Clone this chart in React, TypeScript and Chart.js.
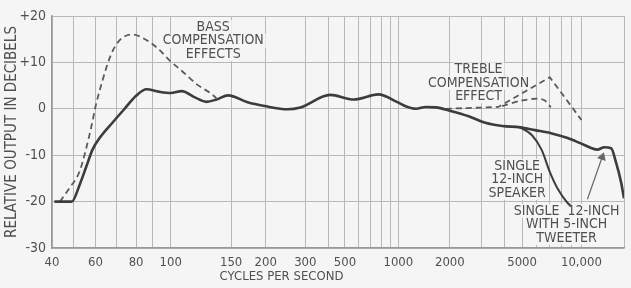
import React, { useEffect, useRef } from 'react';
import { Chart, registerables } from 'chart.js';

Chart.register(...registerables);

// Axis calibration of the printed (hand-drawn, non-uniform) frequency axis
const AXIS_FREQS = [40, 50, 60, 70, 80, 90, 100, 150, 200, 300, 400, 500, 600, 700, 800, 900, 1000, 2000, 3000, 4000, 5000, 6000, 7000, 8000, 9000, 10000, 16000];
const AXIS_UNITS = [0, 22, 44, 65, 85, 102, 120, 181, 216, 256, 279, 296, 310, 322, 333, 342, 350, 402, 434, 457, 475, 490, 503, 515, 525, 535, 578];

const X_LABEL_FREQS = [40, 60, 80, 100, 150, 200, 300, 500, 1000, 2000, 5000, 10000];
const X_LABEL_TEXT = ['40', '60', '80', '100', '150', '200', '300', '500', '1000', '2000', '5000', '10,000'];
const X_TITLE = 'CYCLES PER SECOND';
const X_TITLE_FREQ = 235;
const Y_TITLE = 'RELATIVE OUTPUT IN DECIBELS';

const Y_MIN = -30;
const Y_MAX = 20;
const Y_STEP = 10;

// Main response (single 12-inch, continuing with 5-inch tweeter above 5 kc)
const MAIN_FREQ = [41, 49, 52.5, 55.5, 58.5, 62, 68, 74, 80, 86, 93, 100, 107.6, 118, 127, 136, 147, 172, 198, 250, 285, 411, 562, 770, 980, 1112, 1270, 1450, 1660, 1990, 2545, 3150, 3900, 4880, 5860, 7160, 8590, 10330, 11910, 12860, 13880, 14660, 15490, 16000];
const MAIN_DB = [-20, -20, -16.4, -12.5, -8.8, -6.2, -3.0, 0, 2.8, 4.2, 3.7, 3.4, 3.8, 2.4, 1.5, 2.0, 2.9, 1.4, 0.6, -0.1, 0.3, 3.0, 2.0, 3.1, 1.5, 0.5, 0.0, 0.4, 0.3, -0.4, -1.6, -3.0, -3.7, -4.0, -4.6, -5.3, -6.3, -7.8, -8.8, -8.3, -8.5, -11.6, -15.8, -19.3];

// Single 12-inch speaker alone (branch falling off above 5 kc)
const SINGLE_FREQ = [4880, 5650, 6360, 7000, 7640, 8590, 9000];
const SINGLE_DB = [-4.0, -5.7, -8.9, -13.6, -17.2, -20.3, -21.0];

// Bass compensation effect (dashed)
const BASS_FREQ = [43.4, 48, 52.5, 55.5, 58.1, 60, 63.1, 67.4, 71.4, 77.8, 85.7, 93.2, 98.8, 107.6, 120, 131, 135.8];
const BASS_DB = [-20, -17, -13.5, -8.5, -3.5, 0.5, 6, 11.8, 14.7, 16, 14.9, 12.8, 10.6, 8.2, 5.1, 3.3, 2.3];

// Treble compensation effect (dashed, two settings)
const TREBLE_HI_FREQ = [1895, 3710, 7000, 10000];
const TREBLE_HI_DB = [0, 0.4, 6.8, -2.4];
const TREBLE_LO_FREQ = [3900, 5000, 6070, 6600, 7080];
const TREBLE_LO_DB = [0.6, 1.8, 2.2, 1.8, 0.3];

// Pointer from the tweeter caption to the curve
const ARROW_FREQ = [10680, 12580];
const ARROW_DB = [-19.5, -10.4];

const NOTES = [
  { lines: ['BASS', 'COMPENSATION', 'EFFECTS'], freq: 133, db: 17.6 },
  { lines: ['TREBLE', 'COMPENSATION', 'EFFECT'], freq: 2890, db: 8.5 },
  { lines: ['SINGLE', '12-INCH', 'SPEAKER'], freq: 4700, db: -12.3 },
  { lines: ['SINGLE  12-INCH', 'WITH 5-INCH', 'TWEETER'], freq: 8485, db: -22.0 },
];

const FONT = '"Liberation Sans Narrow", "DejaVu Sans Condensed", "Arial Narrow", "DejaVu Sans", sans-serif';
const BG = '#f5f5f5';
const INK = '#3c3c3c';
const TEXT = '#505050';
const GRID = '#b8b8b8';

function warp(f: number): number {
  const n = AXIS_FREQS.length;
  let i = 0;
  while (i < n - 2 && f > AXIS_FREQS[i + 1]) i++;
  const f0 = AXIS_FREQS[i], f1 = AXIS_FREQS[i + 1];
  const u0 = AXIS_UNITS[i], u1 = AXIS_UNITS[i + 1];
  const t = Math.log(f / f0) / Math.log(f1 / f0);
  return u0 + t * (u1 - u0);
}

function pts(fs: number[], ds: number[]) {
  return fs.map((f, i) => ({ x: warp(f), y: ds[i] }));
}

const notesPlugin = {
  id: 'notes',
  beforeDatasetsDraw(chart: any) {
    const { ctx, scales } = chart;
    ctx.save();
    ctx.font = `14px ${FONT}`;
    ctx.fillStyle = BG;
    NOTES.forEach((n) => {
      const cx = scales.x.getPixelForValue(warp(n.freq));
      const cy = scales.y.getPixelForValue(n.db);
      n.lines.forEach((ln, k) => {
        const w = ctx.measureText(ln).width;
        ctx.fillRect(cx - w / 2 - 2, cy + k * 13.5 - 7, w + 4, 14);
      });
    });
    ctx.restore();
  },
  afterDatasetsDraw(chart: any) {
    const { ctx, scales } = chart;
    ctx.save();
    ctx.font = `14px ${FONT}`;
    ctx.fillStyle = TEXT;
    ctx.textAlign = 'center';
    ctx.textBaseline = 'middle';
    NOTES.forEach((n) => {
      const cx = scales.x.getPixelForValue(warp(n.freq));
      const cy = scales.y.getPixelForValue(n.db);
      n.lines.forEach((ln, k) => ctx.fillText(ln, cx, cy + k * 13.5));
    });
    // x-axis title (printed off-centre in the original)
    ctx.font = `13px ${FONT}`;
    ctx.fillText(X_TITLE, scales.x.getPixelForValue(warp(X_TITLE_FREQ)), 277);
    ctx.restore();
  },
};

export default function App() {
  const ref = useRef<HTMLCanvasElement | null>(null);

  useEffect(() => {
    document.body.style.margin = '0';
    document.body.style.background = BG;
    if (!ref.current) return;
    const solid = { borderColor: INK, borderWidth: 2.6, pointRadius: 0, cubicInterpolationMode: 'monotone', fill: false };
    const dashed = { borderColor: '#5a5a5a', borderWidth: 1.8, borderDash: [6, 4], pointRadius: 0, fill: false };
    const chart = new Chart(ref.current, {
      type: 'line',
      data: {
        datasets: [
          { label: 'Single 12-inch with 5-inch tweeter', data: pts(MAIN_FREQ, MAIN_DB), ...solid },
          { label: 'Single 12-inch speaker', data: pts(SINGLE_FREQ, SINGLE_DB), ...solid, borderWidth: 2 },
          { label: 'Bass compensation effects', data: pts(BASS_FREQ, BASS_DB), ...dashed, cubicInterpolationMode: 'monotone' },
          { label: 'Treble compensation effect', data: pts(TREBLE_HI_FREQ, TREBLE_HI_DB), ...dashed, tension: 0 },
          { label: 'Treble compensation effect (low)', data: pts(TREBLE_LO_FREQ, TREBLE_LO_DB), ...dashed, tension: 0.3 },
          {
            label: 'pointer',
            data: pts(ARROW_FREQ, ARROW_DB),
            borderColor: '#666',
            borderWidth: 1.2,
            pointRadius: [0, 4],
            pointStyle: 'triangle',
            rotation: 19,
            pointBackgroundColor: '#666',
            pointBorderColor: '#666',
            tension: 0,
          },
        ],
      } as any,
      options: {
        animation: false,
        responsive: false,
        maintainAspectRatio: false,
        layout: { padding: { top: 16, right: 1, left: 0, bottom: 0 } },
        plugins: { legend: { display: false }, tooltip: { enabled: false } },
        scales: {
          x: {
            type: 'linear',
            min: AXIS_UNITS[0],
            max: AXIS_UNITS[AXIS_UNITS.length - 1],
            afterBuildTicks: (s: any) => {
              s.ticks = AXIS_UNITS.map((v) => ({ value: v }));
            },
            afterFit: (s: any) => {
              s.height = 40;
            },
            ticks: {
              autoSkip: false,
              maxRotation: 0,
              padding: 7,
              color: TEXT,
              font: { family: FONT, size: 13 },
              callback: (v: any) => {
                const i = AXIS_UNITS.indexOf(Number(v));
                if (i < 0) return '';
                const j = X_LABEL_FREQS.indexOf(AXIS_FREQS[i]);
                return j < 0 ? '' : X_LABEL_TEXT[j];
              },
            },
            grid: { color: GRID, lineWidth: 1, drawTicks: false },
            border: { color: '#999', width: 1.5 },
            title: { display: false, text: X_TITLE },
          },
          y: {
            min: Y_MIN,
            max: Y_MAX,
            afterFit: (s: any) => {
              s.width = 52;
            },
            ticks: {
              stepSize: Y_STEP,
              padding: 6,
              color: TEXT,
              font: { family: FONT, size: 14 },
              callback: (v: any) => (Number(v) > 0 ? '+' + v : String(v)),
            },
            grid: { color: GRID, lineWidth: 1, drawTicks: false },
            border: { color: '#999', width: 1.5 },
            title: {
              display: true,
              text: Y_TITLE,
              color: TEXT,
              font: { family: FONT, size: 15 },
              padding: { top: 3, bottom: 0 },
            },
          },
        },
      } as any,
      plugins: [notesPlugin],
    });
    return () => chart.destroy();
  }, []);

  return (
    <div style={{ width: 631, height: 288, background: BG }}>
      <canvas ref={ref} width={631} height={288} />
    </div>
  );
}
